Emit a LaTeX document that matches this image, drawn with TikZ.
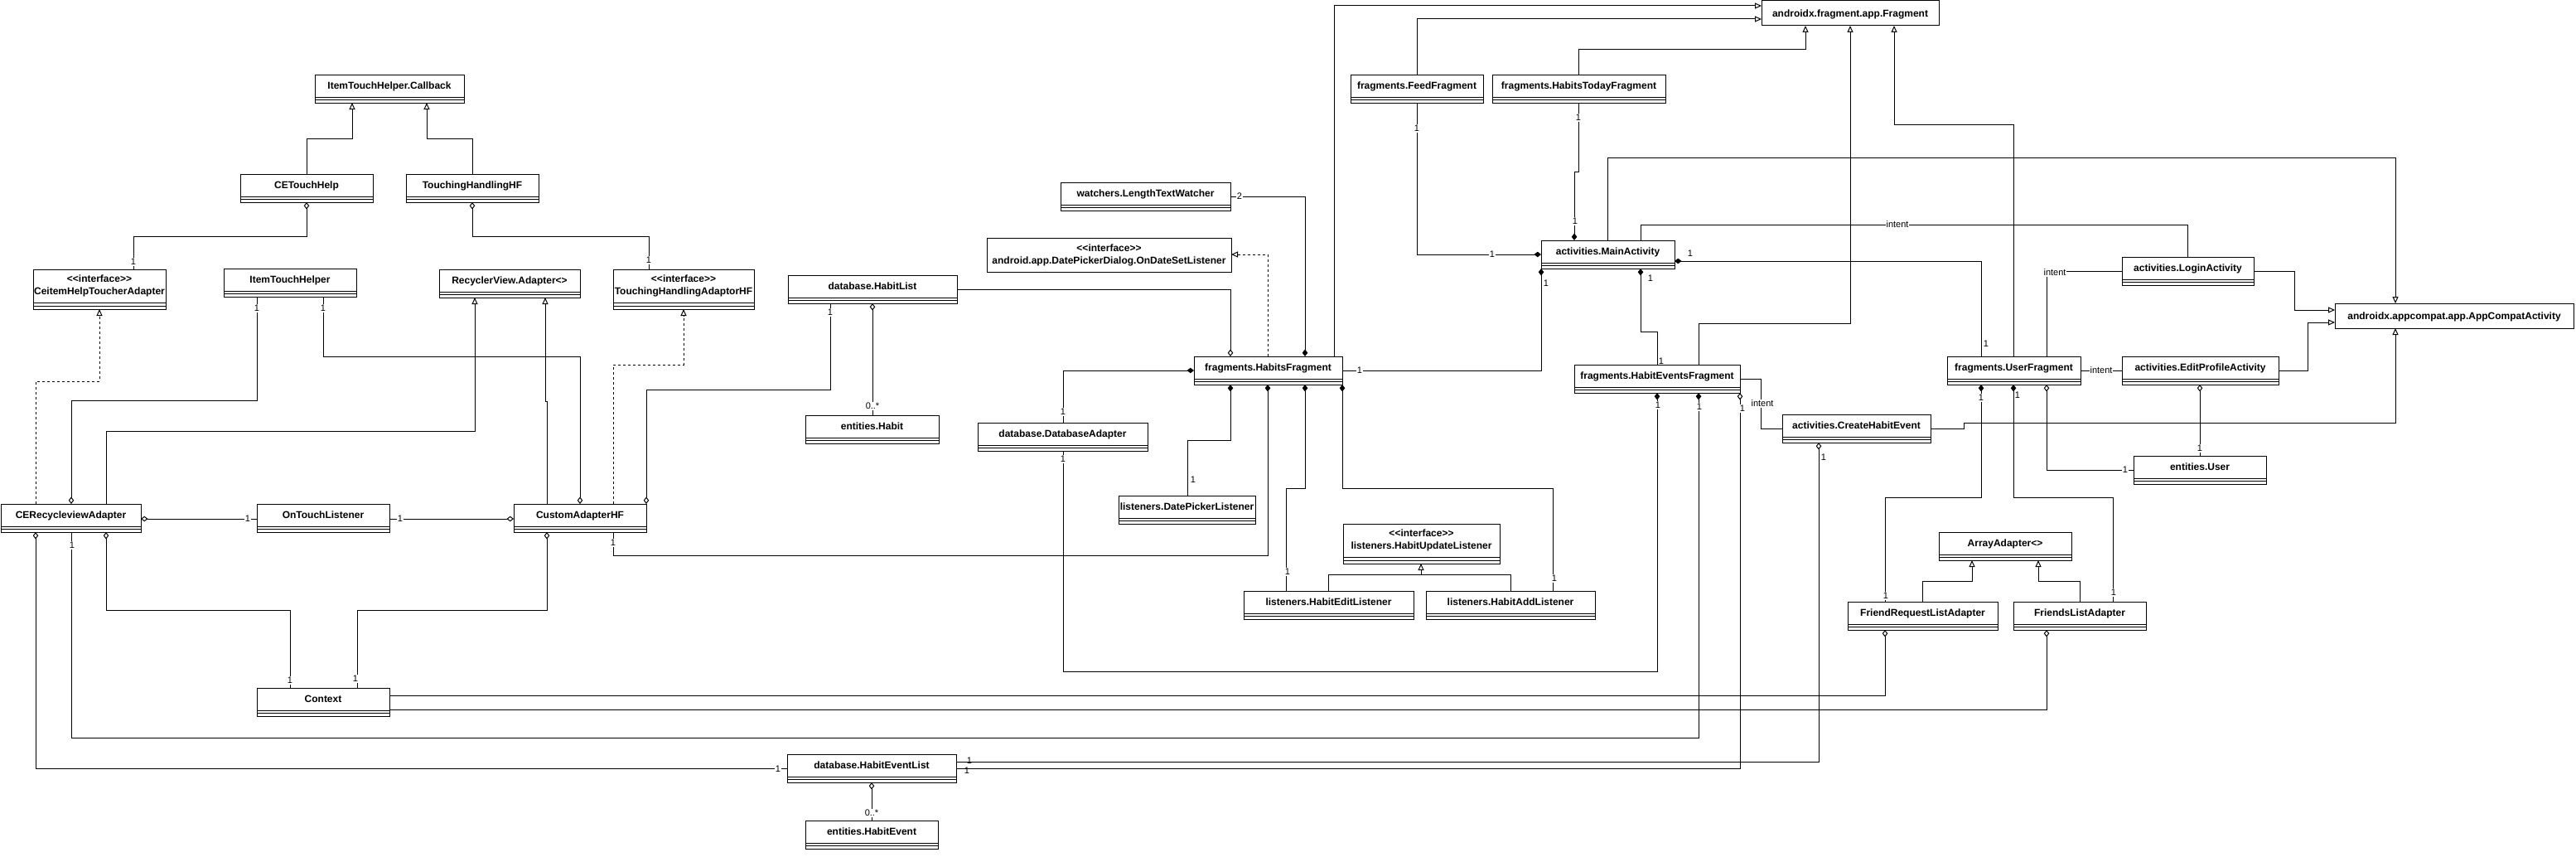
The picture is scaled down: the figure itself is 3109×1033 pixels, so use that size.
\documentclass[tikz,border=0pt]{standalone}
\usepackage{fontspec}
\setmainfont{Liberation Sans}
\usetikzlibrary{arrows.meta}
\newcommand\sepline[1]{\draw ([yshift=-#1pt]path picture bounding box.north west) -- ([yshift=-#1pt]path picture bounding box.north east);}
\tikzset{
  bx/.style={draw, fill=white, anchor=north west, inner sep=0pt, outer sep=0pt, minimum width=#1pt},
  cls/.style={bx=#1, minimum height=34pt, path picture={\sepline{27}\sepline{30.5}}},
  ifc/.style={bx=#1, minimum height=48pt, path picture={\sepline{40}\sepline{44}}},
  pln/.style={bx=#1},
  ct/.style={font=\bfseries\fontsize{12}{14}\selectfont, inner sep=0pt, text height=8.6pt, text depth=0pt},
  ct2/.style={font=\bfseries\fontsize{12}{15}\selectfont, inner sep=0pt, align=center},
  mult/.style={fill=white, inner sep=0.8pt, font=\fontsize{11}{13}\selectfont, text height=7.9pt, text depth=0pt},
  multnf/.style={inner sep=0.8pt, font=\fontsize{11}{13}\selectfont, text height=7.9pt, text depth=0pt},
  gen/.style={-{Triangle[length=8pt,width=7pt,fill=white]}},
  real/.style={gen, dash pattern=on 3pt off 3pt},
  agg/.style={{Diamond[length=8.5pt,width=6.5pt,fill=white]}-},
  comp/.style={{Diamond[length=8.5pt,width=6.5pt,fill=black]}-},
}
\newcommand\cls[5]{\node[cls=#4] (#1) at (#2,#3) {}; \node[ct] (#1-t) at ([yshift=-13.5pt]#1.north) {#5};}
\newcommand\ifc[5]{\node[ifc=#4] (#1) at (#2,#3) {}; \node[ct2] (#1-t) at ([yshift=-20pt]#1.north) {<{}<interface>{}>\\#5};}
\begin{document}
\begin{tikzpicture}[x=1pt,y=-1pt,line width=1pt]
\fill[white] (0,0) rectangle (3109,1033);
\useasboundingbox (0,0) rectangle (3109,1033);
% ---------------- classes
\cls{cb}{380}{90}{180}{ItemTouchHelper.Callback}
\cls{cet}{290}{210}{160}{CETouchHelp}
\cls{thhf}{490}{210}{160}{TouchingHandlingHF}
\ifc{ceit}{40}{325}{160}{CeitemHelpToucherAdapter}
\cls{ith}{270}{324}{160}{ItemTouchHelper}
\cls{rva}{530}{325}{170}{RecyclerView.Adapter<>}
\ifc{thaf}{740}{325}{170}{TouchingHandlingAdaptorHF}
\cls{cera}{1}{608}{169}{CERecycleviewAdapter}
\cls{otl}{310}{608}{160}{OnTouchListener}
\cls{cahf}{620}{608}{160}{CustomAdapterHF}
\cls{ctx}{310}{830}{160}{Context}
\cls{hel}{950}{910}{204}{database.HabitEventList}
\cls{he}{972}{990}{160}{entities.HabitEvent}
\node[pln=295, minimum height=41pt] (dpd) at (1191,287) {};
\node[ct2] (dpd-t) at (dpd.center) {<{}<interface>{}>\\android.app.DatePickerDialog.OnDateSetListener};
\cls{hl}{951}{332}{204}{database.HabitList}
\cls{hab}{972}{501}{161}{entities.Habit}
\cls{dba}{1180}{510}{205}{database.DatabaseAdapter}
\cls{hf}{1441}{430}{179}{fragments.HabitsFragment}
\cls{dpl}{1350}{598}{165}{listeners.DatePickerListener}
\ifc{hul}{1621}{632}{189}{listeners.HabitUpdateListener}
\cls{hed}{1501}{713}{205}{listeners.HabitEditListener}
\cls{had}{1721}{713}{204}{listeners.HabitAddListener}
\node[pln=214, minimum height=30pt] (frag) at (2126,1) {};
\node[ct] (frag-t) at (frag.center) {androidx.fragment.app.Fragment};
\cls{ff}{1630}{90}{160}{fragments.FeedFragment}
\cls{htf}{1801}{90}{209}{fragments.HabitsTodayFragment}
\cls{ma}{1860}{290}{161}{activities.MainActivity}
\cls{ltw}{1280}{220}{205}{watchers.LengthTextWatcher}
\cls{hef}{1900}{440}{200}{fragments.HabitEventsFragment}
\cls{che}{2151}{500}{179}{activities.CreateHabitEvent}
\cls{uf}{2350}{430}{161}{fragments.UserFragment}
\cls{la}{2561}{310}{159}{activities.LoginActivity}
\cls{epa}{2561}{430}{189}{activities.EditProfileActivity}
\cls{usr}{2575}{550}{160}{entities.User}
\node[pln=288, minimum height=30pt] (aca) at (2818,366) {};
\node[ct] (aca-t) at (aca.center) {androidx.appcompat.app.AppCompatActivity};
\cls{aa}{2340}{642}{160}{ArrayAdapter<>}
\cls{frla}{2230}{726}{181}{FriendRequestListAdapter}
\cls{fla}{2430}{726}{160}{FriendsListAdapter}
% ---------------- connectors
\draw[gen] (cet.north) |- (425,167) -- (cb.south -| 425,0);
\draw[gen] (thhf.north) |- (515,167) -- (cb.south -| 515,0);
\draw[agg] (cet.south) |- (161,285) -- (ceit.north -| 161,0);
\draw[agg] (thhf.south) |- (783,285) -- (thaf.north -| 783,0);
\draw[real] (cera.north -| 43,0) |- (120,460) -- (ceit.south -| 120,0);
\draw[agg] (cera.north -| 86,0) |- (310,483) -- (ith.south -| 310,0);
\draw[agg] (cahf.north -| 700,0) |- (390,430) -- (ith.south -| 390,0);
\draw[gen] (cera.north -| 128,0) |- (573,520) -- (rva.south -| 573,0);
\draw[gen] (cahf.north -| 660,0) -- (660,484) -- (658,484) -- (rva.south -| 658,0);
\draw[real] (cahf.north -| 740,0) |- (825,440) -- (thaf.south -| 825,0);
\draw[agg] (cahf.north -| 780,0) |- (1002,470) -- (hl.south -| 1002,0);
\draw[agg] (hl.south -| 1053,0) -- (hab.north -| 1053,0);
\draw[agg] (hel.south -| 1052,0) -- (he.north -| 1052,0);
\draw[agg] (hf.north -| 1485,0) |- (hl.east |- 0,349);
\draw[real] (hf.north -| 1530,0) |- (dpd.east |- 0,307);
\draw[comp] (hf.north -| 1575,0) |- (ltw.east |- 0,237);
\draw[gen] (hf.north -| 1610,0) |- (frag.west |- 0,7);
\draw[gen] (ff.north) |- (frag.west |- 0,23);
\draw[gen] (htf.north -| 1905,0) |- (2179,60) -- (frag.south -| 2179,0);
\draw[gen] (hef.north -| 2050,0) |- (2233,390) -- (frag.south -| 2233,0);
\draw[gen] (uf.north -| 2430,0) |- (2286,150) -- (frag.south -| 2286,0);
\draw[comp] (ma.west |- 0,307) -| (ff.south);
\draw[comp] (ma.north -| 1900,0) -- (1900,207) -- (1905,207) -- (htf.south -| 1905,0);
\draw[gen] (ma.north -| 1940,0) |- (2891,190) -- (aca.north -| 2891,0);
\draw (ma.north -| 1980,0) |- (2640,271) -- (la.north -| 2640,0);
\draw[comp] (ma.east |- 0,315) -| (uf.north -| 2391,0);
\draw[comp] (ma.south -| 1860,0) |- (hf.east |- 0,447);
\draw[comp] (ma.south -| 1980,0) -- (1980,400) -- (2000,400) -- (hef.north -| 2000,0);
\draw[comp] (hf.west |- 0,447) -| (dba.north -| 1283,0);
\draw[comp] (hef.south -| 2000,0) |- (1283,810) -- (dba.south -| 1283,0);
\draw[comp] (hf.south -| 1485,0) |- (1433,531) -- (dpl.north -| 1433,0);
\draw[comp] (hf.south -| 1530,0) |- (740,670) -- (cahf.south -| 740,0);
\draw[comp] (hf.south -| 1575,0) |- (1552,589) -- (hed.north -| 1552,0);
\draw[comp] (hf.south -| 1620,0) |- (1874,589) -- (had.north -| 1874,0);
\draw[gen] (hed.north -| 1603,0) |- (1715,693) -- (hul.south -| 1715,0);
\draw (had.north -| 1823,0) |- (1715,693);
\draw[comp] (hef.south -| 2050,0) |- (86,890) -- (cera.south -| 86,0);
\draw[agg] (hef.south -| 2100,0) |- (hel.east |- 0,927);
\draw[agg] (che.south -| 2195,0) |- (hel.east |- 0,919);
\draw[agg] (cera.south -| 43,0) |- (hel.west |- 0,927);
\draw[agg] (cera.south -| 128,0) |- (350,736) -- (ctx.north -| 350,0);
\draw[agg] (cahf.south -| 660,0) |- (431,736) -- (ctx.north -| 431,0);
\draw[agg] (frla.south -| 2275,0) |- (ctx.east |- 0,839);
\draw[agg] (fla.south -| 2470,0) |- (ctx.east |- 0,856);
\draw[agg] (cera.east |- 0,626) -- (otl.west |- 0,626);
\draw[agg] (cahf.west |- 0,626) -- (otl.east |- 0,626);
\draw[comp] (uf.south -| 2391,0) |- (2275,600) -- (frla.north -| 2275,0);
\draw[comp] (uf.south -| 2430,0) |- (2550,600) -- (fla.north -| 2550,0);
\draw[agg] (uf.south -| 2470,0) |- (usr.west |- 0,567);
\draw (uf.east |- 0,447) -- (epa.west |- 0,447);
\draw (la.west |- 0,327) -| (uf.north -| 2470,0);
\draw[gen] (la.east |- 0,327) -| (2769,374) -- (aca.west |- 0,374);
\draw[gen] (epa.east |- 0,447) -| (2785,389) -- (aca.west |- 0,389);
\draw[gen] (che.east |- 0,517) -- (2370,517) -- (2370,510) -| (aca.south -| 2891,0);
\draw[agg] (epa.south -| 2655,0) -- (usr.north -| 2655,0);
\draw (hef.east |- 0,457) -| (2125,517) -- (che.west |- 0,517);
\draw[gen] (frla.north -| 2320,0) |- (2380,701) -- (aa.south -| 2380,0);
\draw[gen] (fla.north -| 2510,0) |- (2460,701) -- (aa.south -| 2460,0);
% ---------------- labels
\node[mult] (m1) at (161,316) {1};
\node[mult] (m2) at (783,314) {1};
\node[mult] (m3) at (310,372) {1};
\node[mult] (m4) at (390,372) {1};
\node[mult] (m5) at (1002,377) {1};
\node[mult] (m6) at (1053,490) {0..*};
\node[mult] (m6b) at (1052,981) {0..*};
\node[mult] (m7) at (1496,237) {2};
\node[mult] (m8) at (1801,307) {1};
\node[mult] (m9) at (1710,155) {1};
\node[mult] (m10) at (1901,267) {1};
\node[mult] (m11) at (1905,142) {1};
\node[multnf] (m12) at (2040,306) {1};
\node[multnf] (m13) at (2397,415) {1};
\node[mult] (m14) at (1641,447) {1};
\node[multnf] (m15) at (1866,342) {1};
\node[multnf] (m16) at (1992,336) {1};
\node[multnf] (m17) at (2005,436) {1};
\node[mult] (m18) at (1283,497) {1};
\node[mult] (m19) at (1283,554) {1};
\node[mult] (m20) at (2001,489) {1};
\node[multnf] (m21) at (1440,579) {1};
\node[mult] (m22) at (740,655) {1};
\node[mult] (m23) at (1554,690) {1};
\node[mult] (m24) at (1876,698) {1};
\node[mult] (m25) at (2051,491) {1};
\node[mult] (m26) at (87,658) {1};
\node[mult] (m27) at (2103,493) {1};
\node[multnf] (m28) at (1167,930) {1};
\node[mult] (m29) at (2201,552) {1};
\node[multnf] (m30) at (1170,918) {1};
\node[mult] (m31) at (939,928) {1};
\node[mult] (m32) at (350,821) {1};
\node[mult] (m33) at (429,819) {1};
\node[mult] (m34) at (299,626) {1};
\node[mult] (m35) at (483,626) {1};
\node[mult] (m36) at (2391,480) {1};
\node[multnf] (m37) at (2435,477) {1};
\node[mult] (m38) at (2276,719) {1};
\node[mult] (m39) at (2551,715) {1};
\node[mult] (m40) at (2565,567) {1};
\node[mult] (m41) at (2655,541) {1};
\node[mult] (i1) at (2290,271) {intent};
\node[mult] (i2) at (2536,447) {intent};
\node[mult] (i3) at (2480,329) {intent};
\node[mult] (i4) at (2127,487) {intent};
\end{tikzpicture}
\end{document}
